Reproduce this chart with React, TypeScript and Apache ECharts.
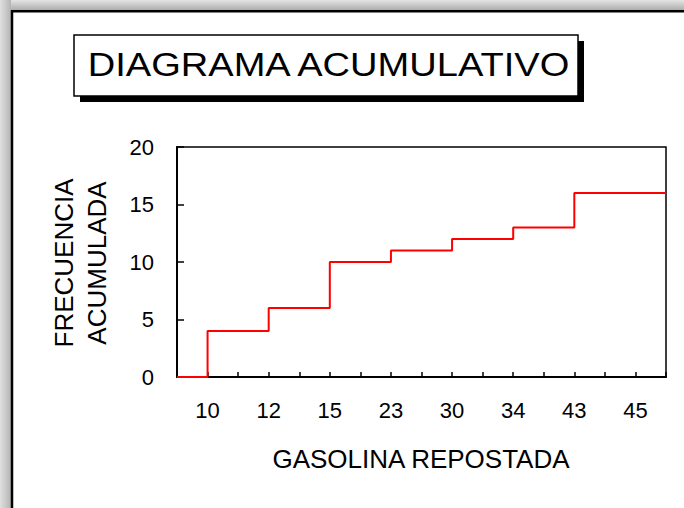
import React, { useEffect, useRef } from "react";
import * as echarts from "echarts";

const categories = ["10", "12", "15", "23", "30", "34", "43", "45"];
const cumulative = [4, 6, 10, 11, 12, 13, 16, 16];
const yMin = 0;
const yMax = 20;
const yStep = 5;
const title = "DIAGRAMA ACUMULATIVO";
const xTitle = "GASOLINA REPOSTADA";
const yTitleLines = ["FRECUENCIA", "ACUMULADA"];

const FONT = "'Liberation Sans', Arial, sans-serif";

export default function App() {
  const ref = useRef<HTMLDivElement>(null);

  useEffect(() => {
    if (!ref.current) return;
    const chart = echarts.init(ref.current, undefined, { renderer: "svg" });
    const n = categories.length;
    const points: number[][] = [[0, 0]];
    categories.forEach((_, i) => points.push([2 * i + 1, cumulative[i]]));
    points.push([2 * n, cumulative[n - 1]]);

    const option: any = {
      animation: false,
      backgroundColor: "#ffffff",
      grid: {
        left: 177,
        top: 147,
        width: 489,
        height: 230,
        show: true,
        borderColor: "#000",
        borderWidth: 1.5,
        backgroundColor: "transparent",
      },
      xAxis: {
        type: "value",
        min: 0,
        max: 2 * n,
        interval: 1,
        splitLine: { show: false },
        axisLine: { show: true, onZero: false, lineStyle: { color: "#000", width: 2 } },
        axisTick: { show: true, inside: true, length: 5, lineStyle: { color: "#000", width: 1.5 } },
        axisLabel: {
          show: true,
          margin: 22,
          fontFamily: FONT,
          fontSize: 22,
          color: "#000",
          showMinLabel: true,
          showMaxLabel: true,
          formatter: (v: number) => {
            const r = Math.round(v);
            if (r % 2 === 1) {
              const idx = (r - 1) / 2;
              return categories[idx] ?? "";
            }
            return "";
          },
        },
      },
      yAxis: {
        type: "value",
        min: yMin,
        max: yMax,
        interval: yStep,
        splitLine: { show: false },
        axisLine: { show: true, lineStyle: { color: "#000", width: 2 } },
        axisTick: { show: true, inside: true, length: 7, lineStyle: { color: "#000", width: 1.5 } },
        axisLabel: {
          margin: 23,
          fontFamily: FONT,
          fontSize: 22,
          color: "#000",
        },
      },
      series: [
        {
          type: "line",
          step: "end",
          data: points,
          showSymbol: false,
          symbol: "none",
          lineStyle: { color: "#ff0000", width: 2 },
          z: 5,
        },
      ],
      graphic: [
        {
          type: "rect",
          shape: { x: 0, y: 0, width: 684, height: 11 },
          style: {
            fill: new echarts.graphic.LinearGradient(0, 0, 0, 1, [
              { offset: 0, color: "#e4e4e4" },
              { offset: 1, color: "#a8a8a8" },
            ]),
          },
          silent: true,
        },
        {
          type: "rect",
          shape: { x: 0, y: 0, width: 11, height: 508 },
          style: {
            fill: new echarts.graphic.LinearGradient(0, 0, 1, 0, [
              { offset: 0, color: "#e0e0e0" },
              { offset: 1, color: "#b4b4b4" },
            ]),
          },
          silent: true,
        },
        {
          type: "line",
          shape: { x1: 12, y1: 11.3, x2: 684, y2: 11.3 },
          style: { stroke: "#000", lineWidth: 2.5 },
          silent: true,
        },
        {
          type: "line",
          shape: { x1: 12, y1: 10, x2: 12, y2: 508 },
          style: { stroke: "#000", lineWidth: 2.5 },
          silent: true,
        },
        {
          type: "rect",
          shape: { x: 80, y: 41, width: 504, height: 61 },
          style: { fill: "#000" },
          silent: true,
        },
        {
          type: "rect",
          shape: { x: 74, y: 35, width: 504, height: 61 },
          style: { fill: "#fff", stroke: "#000", lineWidth: 1.5 },
          silent: true,
        },
        {
          type: "text",
          x: 328.5,
          y: 64.5,
          scaleX: 1.154,
          style: {
            text: title,
            fontFamily: FONT,
            fontSize: 33,
            fill: "#000",
            align: "center",
            verticalAlign: "middle",
          },
          silent: true,
        },
        {
          type: "text",
          x: 421,
          y: 459,
          style: {
            text: xTitle,
            fontFamily: FONT,
            fontSize: 26,
            fill: "#000",
            align: "center",
            verticalAlign: "middle",
          },
          silent: true,
        },
        {
          type: "text",
          x: 63.5,
          y: 263,
          rotation: Math.PI / 2,
          style: {
            text: yTitleLines[0],
            fontFamily: FONT,
            fontSize: 26,
            fill: "#000",
            align: "center",
            verticalAlign: "middle",
          },
          silent: true,
        },
        {
          type: "text",
          x: 96.5,
          y: 263,
          rotation: Math.PI / 2,
          style: {
            text: yTitleLines[1],
            fontFamily: FONT,
            fontSize: 26,
            fill: "#000",
            align: "center",
            verticalAlign: "middle",
          },
          silent: true,
        },
      ],
    };
    chart.setOption(option);
    return () => chart.dispose();
  }, []);

  return (
    <div
      ref={ref}
      style={{ position: "fixed", left: 0, top: 0, width: 684, height: 508 }}
    />
  );
}
